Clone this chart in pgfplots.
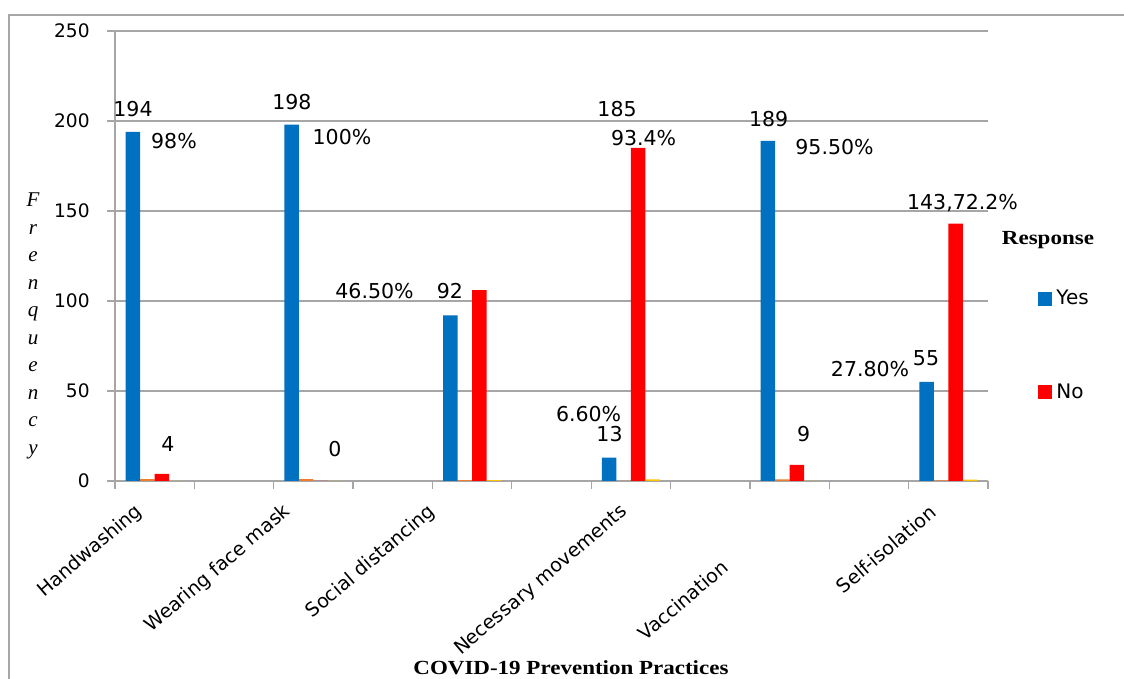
\documentclass[border=0pt]{standalone}
\usepackage{fontspec}
\setmainfont{DejaVu Sans}
\newfontfamily\tnr{Liberation Serif}
\usepackage{pgfplots}
\pgfplotsset{compat=1.18}
\definecolor{cyes}{HTML}{0070C0}
\definecolor{cno}{HTML}{FF0000}
\definecolor{corange}{HTML}{ED7D31}
\definecolor{cyellow}{HTML}{FFC000}
\definecolor{cgrid}{HTML}{A6A6A6}
\tikzset{dl/.style={font=\fontsize{10.25}{12}\selectfont, inner sep=0pt, anchor=center}}
\begin{document}
\begin{tikzpicture}
\path[use as bounding box] (-57.5pt,-99pt) rectangle (504.5pt,240.5pt);
\draw[cgrid, line width=0.6pt] (-53pt,-99pt) -- (-53pt,233pt) -- (504.5pt,233pt);
\begin{axis}[
  at={(0pt,0pt)}, anchor=south west,
  scale only axis, width=436.5pt, height=225pt,
  xmin=0, xmax=11, ymin=0, ymax=250,
  clip=false,
  axis x line*=bottom, axis y line*=left,
  axis line style={cgrid, line width=0.6pt},
  ytick={0,50,...,250},
  ymajorgrids, grid style={cgrid, line width=0.6pt},
  tick align=outside, major tick length=4pt, minor tick length=4pt,
  tick style={cgrid, line width=0.6pt},
  minor xtick={0,1,...,11},
  major x tick style={draw=none},
  xtick={0.315,2.180,4.007,6.426,10.307},
  xticklabels={Handwashing,Wearing face mask,Social distancing,Necessary movements,Self-isolation},
  extra x ticks={7.686}, extra x tick labels={Vaccination},
  extra x tick style={xticklabel style={xshift=-17.86pt, yshift=-20.91pt}},
  x tick label style={yshift=-10pt, rotate=40.5, anchor=east, inner sep=0pt, font=\fontsize{9.6}{11}\selectfont},
  y tick label style={anchor=east, inner sep=0pt, xshift=-8.5pt, font=\fontsize{9.3}{11}\selectfont},
  /pgf/number format/assume math mode=true,
  xlabel={\scalebox{1.15}[1]{COVID-19 Prevention Practices}},
  every axis x label/.style={at={(rel axis cs:0.5223,-0.4156)}, anchor=center, font=\tnr\bfseries\fontsize{10}{12}\selectfont},
  ylabel={F\\r\\e\\n\\q\\u\\e\\n\\c\\y},
  every axis y label/.style={at={(rel axis cs:-0.0939,0.3444)}, anchor=center, align=center, font=\tnr\itshape\fontsize{10.5}{13.75}\selectfont},
  legend style={draw=none, fill=none, at={(rel axis cs:1.0573,0.4344)}, anchor=north west, inner sep=0pt, row sep=34pt, font=\fontsize{10}{11}\selectfont},
  legend cell align=left,
]
\addplot[ybar, bar width=0.183, bar shift=-0.2745, fill=cyes, draw=none,
  legend image code/.code={\fill[cyes] (0pt,-3.5pt) rectangle (7pt,3.5pt);}]
  coordinates {(0.5,194) (2.5,198) (4.5,92) (6.5,13) (8.5,189) (10.5,55)};
\addlegendentry{Yes}
\addplot[ybar, bar width=0.183, bar shift=-0.0915, fill=corange, draw=none, forget plot]
  coordinates {(0.5,0.98) (2.5,1.00) (4.5,0.465) (6.5,0.066) (8.5,0.955) (10.5,0.278)};
\addplot[ybar, bar width=0.183, bar shift=0.0915, fill=cno, draw=none,
  legend image code/.code={\fill[cno] (0pt,-3.5pt) rectangle (7pt,3.5pt);}]
  coordinates {(0.5,4) (2.5,0) (4.5,106) (6.5,185) (8.5,9) (10.5,143)};
\addlegendentry{No}
\addplot[ybar, bar width=0.183, bar shift=0.2745, fill=cyellow, draw=none, forget plot]
  coordinates {(0.5,0.02) (2.5,0.00) (4.5,0.535) (6.5,0.934) (8.5,0.045) (10.5,0.722)};
\node[dl] at (axis cs:0.227,206.7) {194};
\node[dl] at (axis cs:0.743,188.9) {98\%};
\node[dl] at (axis cs:2.230,210.6) {198};
\node[dl] at (axis cs:2.860,191.1) {100\%};
\node[dl] at (axis cs:0.668,20.6) {4};
\node[dl] at (axis cs:2.772,17.8) {0};
\node[dl] at (axis cs:3.270,105.6) {46.50\%};
\node[dl] at (axis cs:4.221,105.6) {92};
\node[dl] at (axis cs:5.967,37.2) {6.60\%};
\node[dl] at (axis cs:6.231,26.1) {13};
\node[dl] at (axis cs:6.326,206.7) {185};
\node[dl] at (axis cs:6.660,190.6) {93.4\%};
\node[dl] at (axis cs:8.235,201.1) {189};
\node[dl] at (axis cs:9.066,185.6) {95.50\%};
\node[dl] at (axis cs:8.676,26.1) {9};
\node[dl] at (axis cs:10.679,154.4) {143,72.2\%};
\node[dl] at (axis cs:9.514,62.2) {27.80\%};
\node[dl] at (axis cs:10.219,68.3) {55};
\node[font=\tnr\bfseries\fontsize{10}{12}\selectfont] at (rel axis cs:1.0687,0.5356) {\scalebox{1.15}[1]{Response}};
\end{axis}
\end{tikzpicture}
\end{document}
